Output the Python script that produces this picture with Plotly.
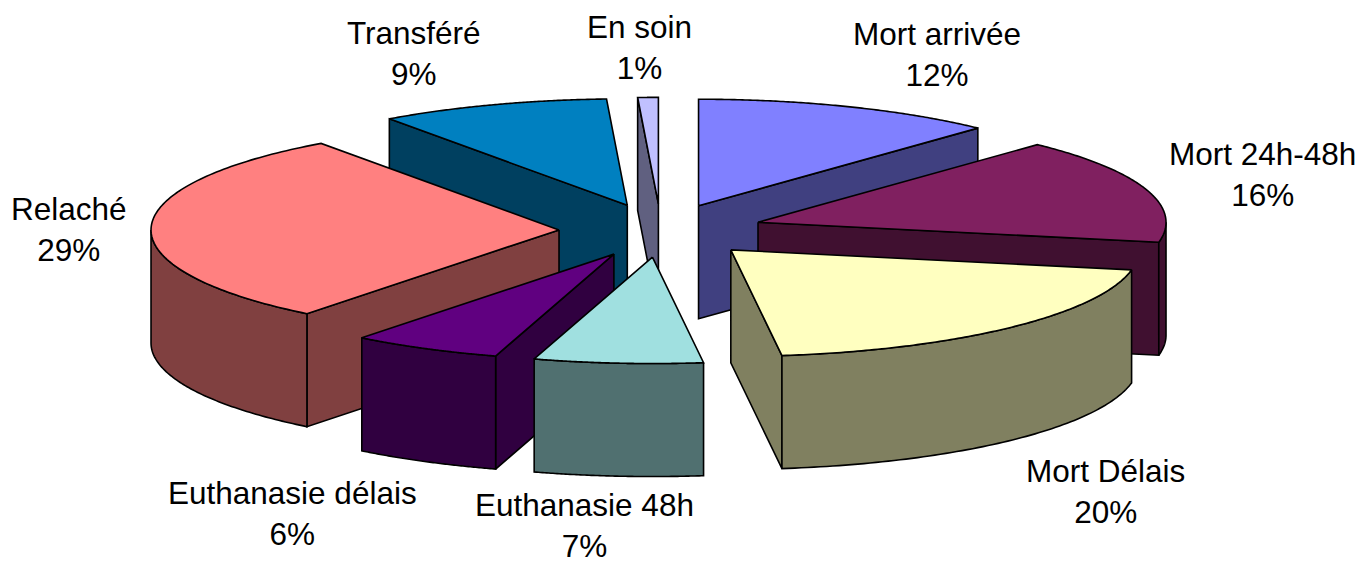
import numpy as np
import plotly.graph_objects as go

categories = ["Mort arrivée", "Mort 24h-48h", "Mort Délais", "Euthanasie 48h",
              "Euthanasie délais", "Relaché", "Transféré", "En soin"]
values = [12, 16, 20, 6.68, 5.92, 29.49, 9.1, 0.81]
percent_labels = ["12%", "16%", "20%", "7%", "6%", "29%", "9%", "1%"]
top_colors = ["#8080FF", "#802060", "#FFFFC0", "#A0E0E0", "#600080", "#FF8080", "#0080C0", "#C0C0FF"]
side_colors = ["#404080", "#401030", "#808060", "#507070", "#300040", "#804040", "#004060", "#606080"]
label_centres = [(936.5, 54.5), (1262, 174.5), (1105.5, 491.5), (584, 525), (292, 513.5), (69, 229), (413.5, 53.5), (639, 47.5)]

CX, CY, RX, RY, DEPTH, EXPLODE = 661, 230.5, 408, 106.5, 113, 0.25


def project(theta, apex):
    return apex[0] + RX * np.sin(theta), apex[1] - RY * np.cos(theta)


def poly(fig, xs, ys, fill):
    fig.add_trace(go.Scatter(x=list(xs) + [xs[0]], y=list(ys) + [ys[0]], mode="lines", fill="toself",
                             fillcolor=fill, line=dict(color="#000000", width=1.6, simplify=False),
                             hoverinfo="skip", showlegend=False))


fractions = np.array(values, dtype=float) / sum(values)
ends = np.cumsum(fractions) * 2 * np.pi
starts = ends - fractions * 2 * np.pi
mids = (starts + ends) / 2
order = np.argsort(-np.cos(mids))

fig = go.Figure()
for i in order:
    t0, t1 = starts[i], ends[i]
    apex = (CX + EXPLODE * RX * np.sin(mids[i]), CY - EXPLODE * RY * np.cos(mids[i]))
    # radial side faces
    for t, visible in ((t0, np.sin(t0) < -1e-9), (t1, np.sin(t1) > 1e-9)):
        if visible:
            px, py = project(t, apex)
            poly(fig, [apex[0], px, px, apex[0]], [apex[1], py, py + DEPTH, apex[1] + DEPTH], side_colors[i])
    # outer rim, front half only
    a, b = max(t0, np.pi / 2), min(t1, 3 * np.pi / 2)
    if b > a:
        th = np.linspace(a, b, 80)
        rx, ry = project(th, apex)
        poly(fig, np.r_[rx, rx[::-1]], np.r_[ry, ry[::-1] + DEPTH], side_colors[i])
    # top face
    th = np.linspace(t0, t1, 120)
    tx, ty = project(th, apex)
    poly(fig, np.r_[apex[0], tx], np.r_[apex[1], ty], top_colors[i])

for name, pct, (lx, ly) in zip(categories, percent_labels, label_centres):
    fig.add_annotation(x=lx, y=ly, text=f"{name}<br>{pct}", showarrow=False, xref="x", yref="y",
                       font=dict(family="Liberation Sans, Arial, sans-serif", size=31.5, color="#000000"),
                       align="center", xanchor="center", yanchor="middle")

fig.update_xaxes(range=[0, 1360], visible=False, fixedrange=True)
fig.update_yaxes(range=[561, 0], visible=False, fixedrange=True)
fig.update_layout(width=1360, height=561, margin=dict(l=0, r=0, t=0, b=0),
                  paper_bgcolor="#FFFFFF", plot_bgcolor="#FFFFFF", showlegend=False)
fig.write_html("out.html", config={"displayModeBar": False},
               post_script="document.body.style.margin='0';")
